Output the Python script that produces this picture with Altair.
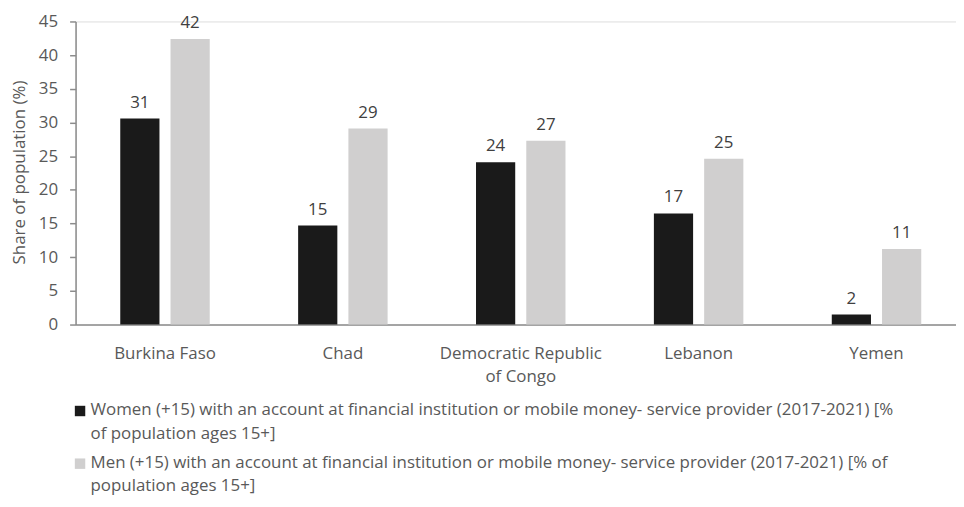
import altair as alt
import pandas as pd

countries = ["Burkina Faso", "Chad", "Democratic Republic of Congo", "Lebanon", "Yemen"]
women = [30.6, 14.7, 24.1, 16.5, 1.5]
men = [42.4, 29.1, 27.3, 24.6, 11.2]
series = ["Women", "Men"]
colors = ["#1a1a1a", "#d0cfcf"]
legend_texts = [
    "Women (+15) with an account at financial institution or mobile money- service provider (2017-2021) [%\nof population ages 15+]",
    "Men (+15) with an account at financial institution or mobile money- service provider (2017-2021) [% of\npopulation ages 15+]",
]
y_ticks = [0, 5, 10, 15, 20, 25, 30, 35, 40, 45]
y_title = "Share of population (%)"

rows = []
for i, c in enumerate(countries):
    rows.append({"country": c, "series": series[0], "value": women[i]})
    rows.append({"country": c, "series": series[1], "value": men[i]})
df = pd.DataFrame(rows)

FONT = "Open Sans"
FS = 17
W, H = 886, 305
AXIS_GREY = "#8c8c8c"
LABEL_GREY = "#595959"

color_scale = alt.Scale(domain=series, range=colors)

x_enc = alt.X(
    "country:N",
    sort=countries,
    scale=alt.Scale(paddingInner=0.497, paddingOuter=0.2233, align=0.5625),
    axis=alt.Axis(
        title=None,
        labelAngle=0,
        ticks=False,
        tickSize=0,
        labelPadding=21,
        labelBaseline="top",
        labelLineHeight=23,
        labelExpr="datum.label == 'Democratic Republic of Congo' ? ['Democratic Republic', 'of Congo'] : datum.label",
        labelFont=FONT,
        labelFontSize=FS,
        labelColor=LABEL_GREY,
        domainColor=AXIS_GREY,
        domainWidth=1.5,
        labelLimit=300,
    ),
)
xoff_enc = alt.XOffset(
    "series:N", sort=series,
    scale=alt.Scale(domain=series, paddingInner=0.22, paddingOuter=0),
)
y_enc = alt.Y(
    "value:Q",
    scale=alt.Scale(domain=[0, 45], nice=False, zero=True),
    axis=alt.Axis(
        values=y_ticks,
        grid=False,
        title=y_title,
        titleFont=FONT,
        titleFontSize=FS,
        titleFontWeight="normal",
        titleColor=LABEL_GREY,
        titleX=-56,
        titleY=H / 2 - 1,
        titleAngle=270,
        titleAlign="center",
        titleBaseline="middle",
        labelFont=FONT,
        labelFontSize=FS,
        labelColor=LABEL_GREY,
        labelPadding=12,
        tickSize=6,
        tickColor=AXIS_GREY,
        tickWidth=1.5,
        domainColor=AXIS_GREY,
        domainWidth=1.5,
    ),
)

base = alt.Chart(df)
bars = base.mark_bar().encode(
    x=x_enc,
    xOffset=xoff_enc,
    y=y_enc,
    color=alt.Color("series:N", scale=color_scale, legend=None),
)
labels = base.mark_text(
    baseline="alphabetic", dy=-11, font=FONT, fontSize=FS, color="#404040"
).encode(
    x=x_enc,
    xOffset=xoff_enc,
    y=y_enc,
    text=alt.Text("value:Q", format=".0f"),
)

layers = [bars, labels]
leg_df = pd.DataFrame({"series": series, "label": legend_texts})
for i, s in enumerate(series):
    yb = 396 + 53 * i
    sq = alt.Chart(leg_df).transform_filter(
        alt.datum.series == s
    ).mark_square(size=110, opacity=1).encode(
        x=alt.value(4.5),
        y=alt.value(yb - 4),
        color=alt.Color("series:N", scale=color_scale, legend=None),
    )
    tx = alt.Chart(leg_df).transform_filter(
        alt.datum.series == s
    ).mark_text(
        align="left", baseline="alphabetic", lineBreak="\n", lineHeight=24,
        font=FONT, fontSize=FS, color=LABEL_GREY,
    ).encode(
        x=alt.value(15),
        y=alt.value(yb),
        text="label:N",
    )
    layers += [sq, tx]

chart = alt.layer(*layers).properties(
    width=W,
    height=H,
    autosize=alt.AutoSizeParams(type="none"),
    padding={"left": 68, "top": 12, "right": 0, "bottom": 174},
).configure_view(stroke=None).configure(background="white")

chart.save("out.html", embed_options={"renderer": "svg", "actions": False})
